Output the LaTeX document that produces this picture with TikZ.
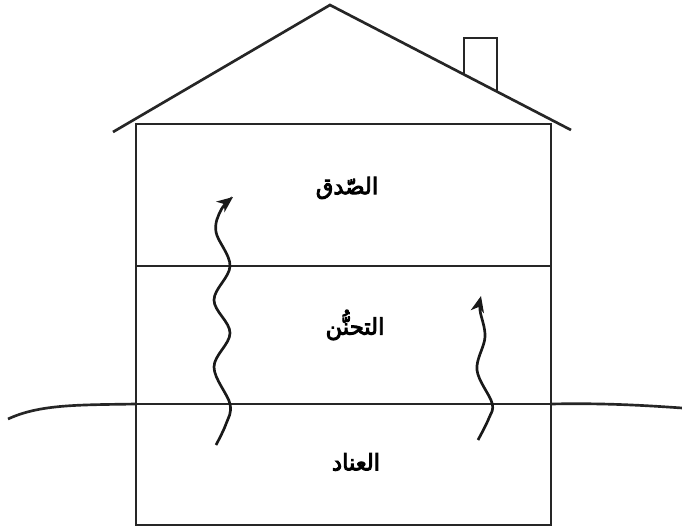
\documentclass[tikz,border=0pt]{standalone}
\usepackage{fontspec}
\newfontfamily\arabicfont[Script=Arabic, FakeBold=4]{DejaVu Sans}
\TeXXeTstate=1
\usetikzlibrary{arrows.meta}
\tikzset{
    wall/.style={line width=2pt, black!85},
    wave/.style={line width=2pt, black!90, -{Stealth[length=12pt, width=10pt, inset=3.5pt]}},
    floorname/.style={font=\arabicfont\fontsize{17}{19}\selectfont}
}

\begin{document}
\begin{tikzpicture}[x=0.75pt, y=-0.75pt]
    \useasboundingbox (0,0) rectangle (682,531);

    % Roof
    \draw[wall] (113,132) -- (330,5) -- (571,130);

    % Chimney
    \draw[wall] (464,75) -- (464,38) -- (497,38) -- (497,92);

    % House walls and floors
    \draw[wall] (136,124) rectangle (551,525);
    \foreach \y in {266, 404} {
        \draw[wall] (136,\y) -- (551,\y);
    }

    % Ground
    \draw[wall] (8,419) .. controls (40,404) and (80,405) .. (136,404);
    \draw[wall] (551,404) .. controls (600,403) and (640,405) .. (682,408);

    % Floor names
    \node[floorname] (top) at (347,188) {\beginR الصّدق\endR};
    \node[floorname] (middle) at (355,325) {\beginR التحنُّن\endR};
    \node[floorname] (bottom) at (356,462) {\beginR العناد\endR};

    % Rising waves
    \draw[wave] plot[smooth, tension=0.6] coordinates {
        (216,445) (226,424) (230,404) (214,367) (230,333) (214,300) (230,266)
        (216,232) (221,210) (233,197)};
    \draw[wave] plot[smooth, tension=0.6] coordinates {
        (478,440) (489,418) (492,403) (477,370) (485,337) (480,310) (481,296)};
\end{tikzpicture}
\end{document}
